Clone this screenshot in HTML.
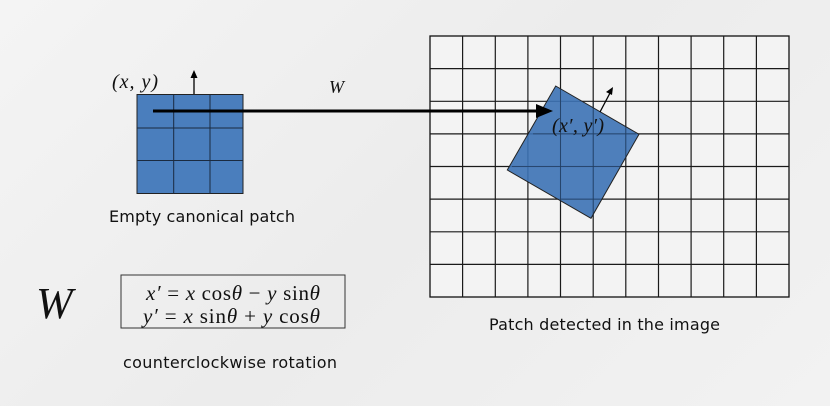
<!DOCTYPE html>
<html><head><style>
body{margin:0;width:830px;height:406px;overflow:hidden;background:linear-gradient(135deg,#f4f4f4,#ececec 50%,#f2f2f2);}
svg{position:absolute;left:0;top:0}
</style></head><body>
<svg width="830" height="406" viewBox="0 0 830 406" xmlns="http://www.w3.org/2000/svg">
<rect x="430" y="36" width="359" height="261" fill="#f3f3f3" stroke="#111" stroke-width="1.3"/>
<g stroke="#1a1a1a" stroke-width="1.2">
<line x1="462.6" y1="36" x2="462.6" y2="297"/><line x1="495.3" y1="36" x2="495.3" y2="297"/>
<line x1="527.9" y1="36" x2="527.9" y2="297"/><line x1="560.5" y1="36" x2="560.5" y2="297"/>
<line x1="593.2" y1="36" x2="593.2" y2="297"/><line x1="625.8" y1="36" x2="625.8" y2="297"/>
<line x1="658.5" y1="36" x2="658.5" y2="297"/><line x1="691.1" y1="36" x2="691.1" y2="297"/>
<line x1="723.7" y1="36" x2="723.7" y2="297"/><line x1="756.4" y1="36" x2="756.4" y2="297"/>
<line x1="430" y1="68.6" x2="789" y2="68.6"/><line x1="430" y1="101.3" x2="789" y2="101.3"/>
<line x1="430" y1="133.9" x2="789" y2="133.9"/><line x1="430" y1="166.5" x2="789" y2="166.5"/>
<line x1="430" y1="199.1" x2="789" y2="199.1"/><line x1="430" y1="231.8" x2="789" y2="231.8"/>
<line x1="430" y1="264.4" x2="789" y2="264.4"/>
</g>
<polygon points="555.7,86 639,134.3 591,218.3 507.3,170" fill="#3c72b5" fill-opacity="0.9" stroke="#222" stroke-width="1"/>
<g stroke="#1a2a40" stroke-width="0.8" opacity="0.7">
<line x1="560.5" y1="89" x2="560.5" y2="205"/><line x1="593.2" y1="102" x2="593.2" y2="217"/><line x1="625.8" y1="127" x2="625.8" y2="160"/>
<line x1="533" y1="133.9" x2="636" y2="133.9"/><line x1="512" y1="166.5" x2="622" y2="166.5"/><line x1="560" y1="199.1" x2="602" y2="199.1"/>
</g>
<rect x="137" y="94.5" width="106" height="99" fill="#4a7ebd" stroke="#222" stroke-width="1"/>
<g stroke="#1a2a40" stroke-width="1">
<line x1="173.7" y1="94.5" x2="173.7" y2="193.5"/><line x1="210" y1="94.5" x2="210" y2="193.5"/>
<line x1="137" y1="128" x2="243" y2="128"/><line x1="137" y1="160.5" x2="243" y2="160.5"/>
</g>
<line x1="153" y1="111" x2="540" y2="111" stroke="#000" stroke-width="3"/>
<polygon points="553,111 536,104 536,118" fill="#000"/>
<line x1="194" y1="94" x2="194" y2="76" stroke="#000" stroke-width="1.3"/>
<polygon points="194,70 190.5,78 197.5,78" fill="#000"/>
<line x1="600" y1="112" x2="610" y2="93" stroke="#000" stroke-width="1.3"/>
<polygon points="613,87 606,92 612,95" fill="#000"/>
<g font-family="Liberation Serif,serif" font-style="italic" fill="#111">
<text x="112" y="88" font-size="20" textLength="46">(x, y)</text>
<text x="329" y="93" font-size="18">W</text>
<text x="552" y="132" font-size="20" textLength="52">(x′, y′)</text>
<text x="36" y="318" font-size="44">W</text>
</g>
<rect x="121" y="275" width="224" height="53" fill="none" stroke="#333" stroke-width="1"/>
<g font-family="Liberation Serif,serif" font-size="21" fill="#111">
<text x="146" y="300" textLength="174"><tspan font-style="italic">x′</tspan> = <tspan font-style="italic">x</tspan> cos<tspan font-style="italic">θ</tspan> − <tspan font-style="italic">y</tspan>  sin<tspan font-style="italic">θ</tspan></text>
<text x="143" y="323" textLength="177"><tspan font-style="italic">y′</tspan> = <tspan font-style="italic">x</tspan> sin<tspan font-style="italic">θ</tspan> + <tspan font-style="italic">y</tspan>  cos<tspan font-style="italic">θ</tspan></text>
</g>
<g font-family="DejaVu Sans,Liberation Sans,sans-serif" font-size="16" fill="#111">
<text x="109" y="222" textLength="186">Empty canonical patch</text>
<text x="123" y="368" textLength="214">counterclockwise rotation</text>
<text x="489" y="330" textLength="231">Patch detected in the image</text>
</g>
</svg>
</body></html>
